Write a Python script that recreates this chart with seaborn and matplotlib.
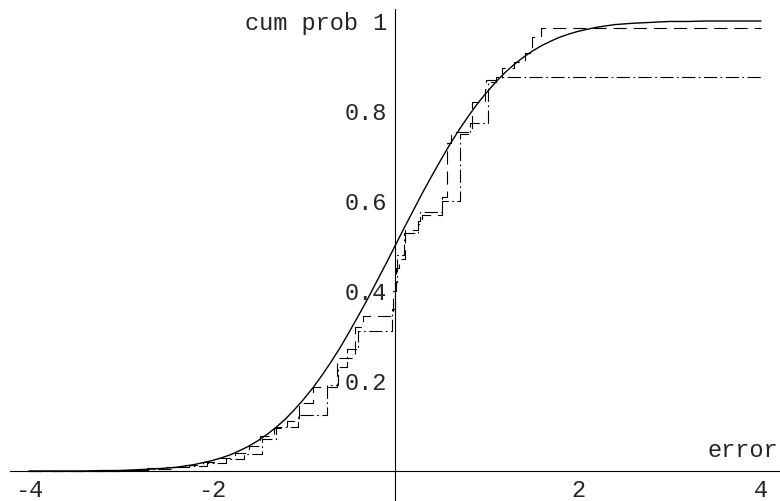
import numpy as np
import pandas as pd
import matplotlib
matplotlib.use("Agg")
import matplotlib.pyplot as plt
import seaborn as sns

# normal cdf
cdf_x = [-4.0, -3.8, -3.6, -3.4, -3.2, -3.0, -2.8, -2.6, -2.4, -2.2, -2.0,
         -1.9, -1.8, -1.7, -1.6, -1.5, -1.4, -1.3, -1.2, -1.1, -1.0,
         -0.9, -0.8, -0.7, -0.6, -0.5, -0.4, -0.3, -0.2, -0.1, 0.0,
         0.1, 0.2, 0.3, 0.4, 0.5, 0.6, 0.7, 0.8, 0.9, 1.0,
         1.1, 1.2, 1.3, 1.4, 1.5, 1.6, 1.7, 1.8, 1.9, 2.0,
         2.2, 2.4, 2.6, 2.8, 3.0, 3.2, 3.4, 3.6, 3.8, 4.0]
cdf_y = [0.000, 0.000, 0.000, 0.000, 0.001, 0.001, 0.003, 0.005, 0.008, 0.014, 0.023,
         0.029, 0.036, 0.045, 0.055, 0.067, 0.081, 0.097, 0.115, 0.136, 0.159,
         0.184, 0.212, 0.242, 0.274, 0.309, 0.345, 0.382, 0.421, 0.460, 0.500,
         0.540, 0.579, 0.618, 0.655, 0.691, 0.726, 0.758, 0.788, 0.816, 0.841,
         0.864, 0.885, 0.903, 0.919, 0.933, 0.945, 0.955, 0.964, 0.971, 0.977,
         0.986, 0.992, 0.995, 0.997, 0.999, 0.999, 1.000, 1.000, 1.000, 1.000]

# empirical cdf 1 (dashed)
emp1_x = [-4.0, -3.05, -2.75, -2.5, -2.3, -2.1, -1.95, -1.75, -1.6, -1.47, -1.32, -1.18,
          -1.05, -0.9, -0.63, -0.44, -0.35, -0.02, 0.01, 0.04, 0.11, 0.25, 0.3, 0.51,
          0.57, 0.61, 0.84, 0.98, 1.0, 1.17, 1.3, 1.42, 1.5, 1.6, 4.0]
emp1_y = [0.0, 0.003, 0.006, 0.009, 0.013, 0.02, 0.028, 0.04, 0.055, 0.077, 0.095, 0.11,
          0.15, 0.187, 0.25, 0.32, 0.345, 0.40, 0.45, 0.47, 0.535, 0.55, 0.57, 0.61,
          0.73, 0.753, 0.82, 0.85, 0.87, 0.895, 0.91, 0.93, 0.965, 0.984, 0.984]

# empirical cdf 2 (dash-dot)
emp2_x = [-4.0, -3.0, -2.7, -2.45, -2.25, -2.05, -1.85, -1.65, -1.45, -1.3, -1.06,
          -0.74, -0.62, -0.52, -0.4, -0.03, 0.0, 0.02, 0.1, 0.25, 0.27, 0.51, 0.71,
          0.82, 1.02, 1.1, 4.0]
emp2_y = [0.0, 0.002, 0.005, 0.008, 0.012, 0.018, 0.027, 0.037, 0.07, 0.097, 0.124,
          0.19, 0.23, 0.27, 0.31, 0.36, 0.42, 0.48, 0.53, 0.555, 0.575, 0.6, 0.75,
          0.773, 0.865, 0.876, 0.876]

x_ticks = [-4, -2, 2, 4]
x_labels = ["-4", "-2", "2", "4"]
y_ticks = [0.2, 0.4, 0.6, 0.8, 1.0]
y_labels = ["0.2", "0.4", "0.6", "0.8", "1"]

sns.set_style("white")
plt.rcParams["font.family"] = ["Liberation Mono", "DejaVu Sans Mono"]
plt.rcParams["axes.unicode_minus"] = False
plt.rcParams["lines.scale_dashes"] = False

fig = plt.figure(figsize=(7.8, 5.01), dpi=100)
ax = fig.add_axes([0, 0, 1, 1])

sns.lineplot(x=cdf_x, y=cdf_y, ax=ax, color="black", lw=1.0, sort=False, estimator=None)
sns.lineplot(x=emp1_x, y=emp1_y, ax=ax, color="black", lw=0.8, sort=False, estimator=None,
             drawstyle="steps-post", linestyle=(0, (9.5, 5)))
sns.lineplot(x=emp2_x, y=emp2_y, ax=ax, color="black", lw=0.8, sort=False, estimator=None,
             drawstyle="steps-post", linestyle=(0, (9.5, 2.5, 1.2, 2.5)))

ax.set_xlim(-4.317, 4.208)
ax.set_ylim(-0.0667, 1.0467)

for s in ["top", "right"]:
    ax.spines[s].set_visible(False)
ax.spines["left"].set_position(("data", 0))
ax.spines["bottom"].set_position(("data", 0))
ax.spines["left"].set_bounds(-0.0667, 1.026)
ax.spines["bottom"].set_bounds(-4.21, 4.21)
for s in ["left", "bottom"]:
    ax.spines[s].set_linewidth(0.8)
    ax.spines[s].set_color("black")

ax.set_xticks(x_ticks)
ax.set_xticklabels(x_labels)
ax.set_xticks([v / 2 for v in range(-8, 9) if v % 4 != 0], minor=True)
ax.set_yticks(y_ticks)
ax.set_yticklabels(y_labels)
ax.set_yticks([v / 20 for v in range(1, 21) if v % 4 != 0], minor=True)
ax.tick_params(which="both", direction="in", color="black", width=0.8, labelsize=17)
ax.tick_params(which="major", length=5)
ax.tick_params(which="minor", length=3)
ax.tick_params(axis="x", pad=6)
ax.tick_params(axis="y", pad=6)

ax.text(-0.40, 1.0, "cum prob", ha="right", va="center_baseline", fontsize=17)
ax.text(4.19, 0.03, "error", ha="right", va="baseline", fontsize=17)

ax.set_xlabel("")
ax.set_ylabel("")
fig.savefig("out.png", dpi=100)
